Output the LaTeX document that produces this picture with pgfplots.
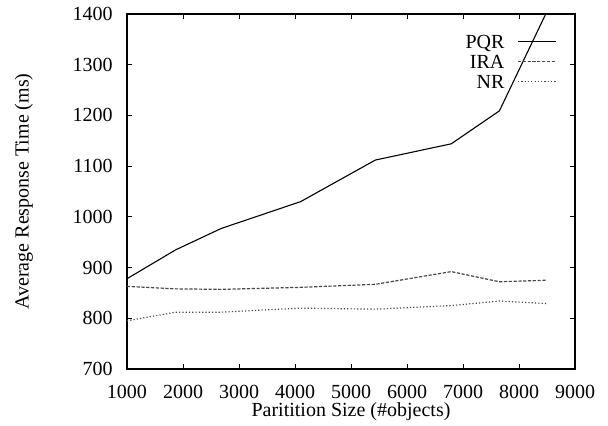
\documentclass[border=0pt]{standalone}
\usepackage{fontspec}
\setmainfont{Liberation Serif}
\usepackage{pgfplots}
\pgfplotsset{compat=1.18}
\begin{document}
\begin{tikzpicture}
\begin{axis}[name=ax,
  scale only axis, width=224pt, height=177.5pt,
  xmin=1000, xmax=9000, ymin=700, ymax=1400,
  xtick={1000,2000,...,9000}, ytick={700,800,...,1400},
  tick align=inside, major tick length=2.5pt,
  axis line style={line width=0.6pt}, tick style={line width=0.5pt, black},
  /pgf/number format/assume math mode=true,
  /pgf/number format/set thousands separator={},
  tick label style={font=\fontsize{10}{12}\selectfont, inner sep=0pt},
  yticklabel style={anchor=east, xshift=-7pt},
  xticklabel style={anchor=center, yshift=-11.5pt},
  label style={font=\fontsize{10}{12}\selectfont, inner sep=0pt},
  xlabel={Paritition Size (\#objects)},
  ylabel={Average Response Time (ms)},
  xlabel style={at={(axis description cs:0.5,-0.119)}, anchor=center},
  ylabel style={at={(axis description cs:-0.23,0.5)}, anchor=center},
  legend plot pos=right,
  legend cell align=right,
  legend style={draw=none, fill=none, inner sep=0pt, at={(1,1)}, anchor=north east,
    xshift=-9pt, yshift=-10pt, row sep=3pt, column sep=6.5pt,
    nodes={text height=7pt, text depth=0pt, inner sep=0pt},
    font=\fontsize{10}{12}\selectfont},
  legend image code/.code={\draw[#1] (0pt,0pt) -- (19pt,0pt);},
]
\addplot[black, line width=0.55pt] coordinates {
(1000,878) (1870,935) (2680,977) (4100,1030) (5435,1112) (6790,1144) (7650,1209) (8490,1403)};
\addlegendentry{PQR}
\addplot[black!72, line width=0.6pt, dash pattern=on 1.6pt off 0.8pt] coordinates {
(1000,863) (1870,858) (2680,857) (4100,861) (5435,867) (6790,892) (7650,872) (8490,875)};
\addlegendentry{IRA}
\addplot[black!72, line width=0.6pt, dash pattern=on 0.6pt off 1.05pt] coordinates {
(1000,795) (1870,812) (2680,812) (4100,820) (5435,818) (6790,825) (7650,834) (8490,829)};
\addlegendentry{NR}
\end{axis}
\path ([shift={(-63.5pt,-28.5pt)}]ax.south west) rectangle ([shift={(16.5pt,7pt)}]ax.north east);
\end{tikzpicture}
\end{document}
